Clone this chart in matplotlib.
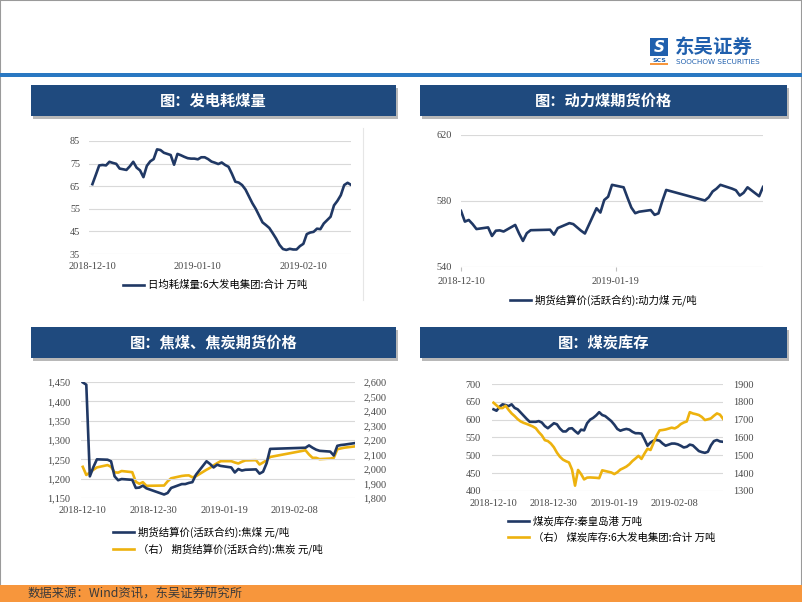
import matplotlib
matplotlib.use('Agg')
import matplotlib.pyplot as plt
from matplotlib.patches import Rectangle
from matplotlib.lines import Line2D
import pandas as pd

plt.rcParams['font.family'] = ['Noto Sans CJK SC', 'DejaVu Sans']

# ---- data ----
# chart 1: daily coal burn of the 6 big power groups, from 2018-12-10
burn_start = '2018-12-10'
burn = [65.9, 70.0, 74.2, 74.4, 74.2, 75.8, 75.3, 74.9, 72.8, 72.5,
        72.2, 73.8, 75.8, 73.2, 72.0, 69.0, 74.0, 76.0, 77.0, 81.3,
        81.0, 79.8, 79.3, 78.8, 74.5, 79.3, 78.7, 78.0, 77.4, 77.2,
        77.2, 76.9, 77.8, 77.8, 77.0, 75.9, 75.4, 74.8, 75.5, 74.4,
        73.6, 70.5, 67.0, 66.6, 65.5, 63.5, 60.5, 57.5, 55.0, 52.0,
        49.0, 47.8, 46.5, 44.2, 41.8, 39.0, 37.2, 36.8, 37.3, 37.0,
        37.0, 38.5, 39.5, 43.8, 44.5, 44.8, 46.2, 46.0, 48.5, 50.0,
        51.5, 56.5, 58.5, 61.0, 65.5, 66.5, 65.6]
burn_yticks = [35, 45, 55, 65, 75, 85]
burn_xticks = ['2018-12-10', '2019-01-10', '2019-02-10']

# futures trading days
trade_dates = ['2018-12-10', '2018-12-11', '2018-12-12', '2018-12-13', '2018-12-14',
               '2018-12-17', '2018-12-18', '2018-12-19', '2018-12-20', '2018-12-21',
               '2018-12-24', '2018-12-25', '2018-12-26', '2018-12-27', '2018-12-28',
               '2019-01-02', '2019-01-03', '2019-01-04',
               '2019-01-07', '2019-01-08', '2019-01-09', '2019-01-10', '2019-01-11',
               '2019-01-14', '2019-01-15', '2019-01-16', '2019-01-17', '2019-01-18',
               '2019-01-21', '2019-01-22', '2019-01-23', '2019-01-24', '2019-01-25',
               '2019-01-28', '2019-01-29', '2019-01-30', '2019-01-31', '2019-02-01',
               '2019-02-11', '2019-02-12', '2019-02-13', '2019-02-14', '2019-02-15',
               '2019-02-18', '2019-02-19', '2019-02-20', '2019-02-21', '2019-02-22',
               '2019-02-25', '2019-02-26']

# chart 2: thermal coal futures
thermal = [574, 567.5, 568.5, 566, 563,
           564, 558.8, 562, 562.2, 561.5,
           565.5, 560.3, 555.8, 560.5, 562.3,
           562.6, 559.6, 563.6,
           566.6, 566, 564, 562, 560.3,
           575.6, 573, 580.6, 582.6, 589.8,
           588.3, 582, 576, 572.6, 573.5,
           574.5, 571.6, 572.5, 580, 586.7,
           580.3, 582.3, 585.8, 587.5, 589.8,
           587.5, 586.5, 583.3, 585, 588.3,
           582.9, 588.5]
thermal_yticks = [540, 580, 620]
thermal_xticks = ['2018-12-10', '2019-01-19']

# chart 3: coking coal (left) and coke (right) futures
coking_coal = [1449, 1443, 1206, 1230, 1250,
               1249, 1245, 1206, 1196, 1199,
               1197, 1176, 1177, 1182, 1175,
               1159, 1163, 1176,
               1186, 1186, 1189, 1191, 1210,
               1245, 1238, 1229, 1236, 1233,
               1229, 1216, 1225, 1221, 1223,
               1224, 1213, 1218, 1240, 1277,
               1280, 1286, 1280, 1275, 1272,
               1270, 1260, 1285, 1287, 1288,
               1292]
coke = [2015, 1959, 1975, 1995, 2011,
        2027, 2015, 1977, 1975, 1986,
        1978, 1912, 1898, 1909, 1884,
        1886, 1915, 1936,
        1952, 1955, 1956, 1943, 1950,
        1995, 2008, 2025, 2040, 2054,
        2054, 2045, 2038, 2050, 2059,
        2061, 2031, 2045, 2060, 2083,
        2129, 2100, 2077, 2077, 2068,
        2072, 2077, 2136, 2142, 2147,
        2156]
coking_yticks = [1150, 1200, 1250, 1300, 1350, 1400, 1450]
coke_yticks = [1800, 1900, 2000, 2100, 2200, 2300, 2400, 2500, 2600]
date_xticks = ['2018-12-10', '2018-12-30', '2019-01-19', '2019-02-08']

# chart 4: daily coal stocks, from 2018-12-10
stock_start = '2018-12-10'
qhd_stock = [629, 625, 636, 643, 641, 638, 643, 633, 629, 620,
             611, 602, 594, 594, 594, 596, 592, 582, 576, 583,
             590, 587, 575, 567, 567, 575, 576, 568, 561, 572,
             570, 590, 600, 605, 612, 621, 613, 610, 603, 596,
             586, 574, 569, 572, 574, 572, 566, 562, 562, 561,
             545, 527, 536, 541, 543, 541, 533, 527, 530, 533,
             533, 531, 527, 522, 524, 530, 528, 520, 512, 509,
             507, 510, 528, 540, 543, 539, 538]
power_stock = [1795, 1780, 1765, 1765, 1778, 1755, 1735, 1720, 1703, 1690,
               1682, 1676, 1669, 1662, 1652, 1630, 1612, 1585, 1580, 1566,
               1545, 1515, 1492, 1476, 1467, 1460, 1420, 1330, 1418, 1395,
               1365, 1375, 1376, 1375, 1374, 1372, 1416, 1412, 1408, 1404,
               1395, 1405, 1420, 1428, 1437, 1450, 1468, 1482, 1497, 1480,
               1510, 1537, 1530, 1570, 1610, 1640, 1642, 1645, 1650, 1655,
               1651, 1660, 1675, 1684, 1690, 1742, 1735, 1731, 1726, 1715,
               1698, 1702, 1707, 1722, 1735, 1728, 1705]
qhd_yticks = [400, 450, 500, 550, 600, 650, 700]
power_yticks = [1300, 1400, 1500, 1600, 1700, 1800, 1900]

# ---- style ----
NAVY = '#203864'
GOLD = '#EDB20E'
BAR = '#1F4A7E'
GRID = '#D9D9D9'
TICK = '#484848'
SERIF = 'Liberation Serif'
FS = 7.4

W, H = 802, 602
fig = plt.figure(figsize=(8.02, 6.02), dpi=100)


def box(x0, y0, x1, y1):
    return [x0 / W, 1 - y1 / H, (x1 - x0) / W, (y1 - y0) / H]


def rect(x0, y0, x1, y1, **kw):
    fig.add_artist(Rectangle((x0 / W, 1 - y1 / H), (x1 - x0) / W, (y1 - y0) / H,
                             transform=fig.transFigure, **kw))


def title_bar(x0, y0, x1, y1, text):
    rect(x0 + 2, y0 + 3, x1 + 2, y1 + 3, color='#B8B8B8', lw=0)
    rect(x0, y0, x1, y1, color=BAR, lw=0)
    fig.text((x0 + x1) / 2 / W, 1 - (y0 + y1) / 2 / H, text, color='white',
             fontsize=11, fontweight='bold', ha='center', va='center')


def style(ax, yticks, ylabels, xticks, xpad=5.5, ypad=6.5):
    for s in ax.spines.values():
        s.set_visible(False)
    ax.grid(axis='y', color=GRID, lw=0.8)
    ax.set_axisbelow(True)
    ax.set_yticks(yticks, ylabels, fontfamily=SERIF, fontsize=FS, color=TICK)
    ax.set_ylim(yticks[0], yticks[-1])
    ax.set_xticks(pd.to_datetime(xticks), xticks, fontfamily=SERIF, fontsize=FS, color=TICK)
    ax.tick_params(axis='y', length=0, pad=ypad)
    ax.tick_params(axis='x', length=0, pad=xpad)


def right_axis(ax, yticks, ylabels, pad=6):
    ax2 = ax.twinx()
    for s in ax2.spines.values():
        s.set_visible(False)
    ax2.set_yticks(yticks, ylabels, fontfamily=SERIF, fontsize=FS, color=TICK)
    ax2.set_ylim(yticks[0], yticks[-1])
    ax2.tick_params(axis='y', length=0, pad=pad)
    return ax2


def legend(ax, handles, labels, x, y):
    ax.legend(handles, labels, loc='upper left', bbox_to_anchor=(x / W, 1 - y / H),
              bbox_transform=fig.transFigure, frameon=False, fontsize=7.5,
              handlelength=2.0, handletextpad=0.4, borderpad=0, borderaxespad=0,
              labelspacing=0.55)


# ---- page frame ----
rect(0, 0, W, H, fill=False, ec='#9A9A9A', lw=1.5)
rect(0, 73, W, 77, color='#2A78C2', lw=0)
rect(0, 585, W, H, color='#F7963C', lw=0)
fig.text(28 / W, 1 - 593.5 / H, '数据来源：Wind资讯，东吴证券研究所', fontsize=8.9,
         color='#3A3A3A', va='center')

# logo
rect(650, 38, 668, 56, color='#1F5FAD', lw=0)
fig.text(659 / W, 1 - 47 / H, 'S', fontsize=11, fontweight='bold', fontstyle='italic',
         color='white', ha='center', va='center', family='DejaVu Sans')
fig.text(659 / W, 1 - 60.5 / H, 'SCS', fontsize=4.5, fontweight='bold', color='#1F5FAD',
         ha='center', va='center', family='DejaVu Sans')
rect(650, 63, 668, 65, color='#F7963C', lw=0)
fig.text(675 / W, 1 - 47 / H, '东吴证券', fontsize=14, fontweight='bold', color='#1F5FAD',
         va='center')
fig.text(676 / W, 1 - 61.5 / H, 'SOOCHOW SECURITIES', fontsize=5.2, color='#1F5FAD',
         va='center', family='DejaVu Sans')

# title bars
title_bar(31, 85, 396, 116, '图：发电耗煤量')
title_bar(420, 85, 787, 116, '图：动力煤期货价格')
title_bar(31, 327, 396, 358, '图：焦煤、焦炭期货价格')
title_bar(420, 327, 787, 358, '图：煤炭库存')
fig.add_artist(Line2D([363 / W, 363 / W], [1 - 128 / H, 1 - 300 / H],
                      transform=fig.transFigure, color='#E6E6E6', lw=0.8))

# ---- chart 1 ----
ax1 = fig.add_axes(box(89, 141, 351, 254))
burn_dates = pd.date_range(burn_start, periods=len(burn))
l1, = ax1.plot(burn_dates, burn, color=NAVY, lw=1.9)
style(ax1, burn_yticks, [str(v) for v in burn_yticks], burn_xticks)
ax1.set_xlim(burn_dates[0] - pd.Timedelta(days=1), burn_dates[-1])
legend(ax1, [l1], ['日均耗煤量:6大发电集团:合计 万吨'], 123, 280)

# ---- chart 2 ----
ax2 = fig.add_axes(box(461, 135, 763, 267))
td = pd.to_datetime(trade_dates)
l2, = ax2.plot(td, thermal, color=NAVY, lw=1.9)
style(ax2, thermal_yticks, [str(v) for v in thermal_yticks], thermal_xticks, xpad=4)
ax2.tick_params(axis='x', length=3, color='#BFBFBF')
ax2.set_xlim(td[0], td[-1])
legend(ax2, [l2], ['期货结算价(活跃合约):动力煤 元/吨'], 510, 294)

# ---- chart 3 ----
ax3 = fig.add_axes(box(81, 382, 355, 498))
n3 = len(coking_coal)
l3, = ax3.plot(td[:n3], coking_coal, color=NAVY, lw=1.9, zorder=3)
style(ax3, coking_yticks, [f'{v:,}' for v in coking_yticks], date_xticks, ypad=7.5)
ax3.set_xlim(td[0] - pd.Timedelta(days=0.5), td[n3 - 1])
ax3r = right_axis(ax3, coke_yticks, [f'{v:,}' for v in coke_yticks], pad=6)
l3b, = ax3r.plot(td[:n3], coke, color=GOLD, lw=1.9)
ax3.set_zorder(ax3r.get_zorder() + 1)
ax3.patch.set_visible(False)
legend(ax3, [l3, l3b], ['期货结算价(活跃合约):焦煤 元/吨',
                        '（右） 期货结算价(活跃合约):焦炭 元/吨'], 113, 526)

# ---- chart 4 ----
ax4 = fig.add_axes(box(492, 384, 723, 491))
stock_dates = pd.date_range(stock_start, periods=len(qhd_stock))
ax4r = right_axis(ax4, power_yticks, [str(v) for v in power_yticks], pad=7)
l4b, = ax4r.plot(stock_dates, power_stock, color=GOLD, lw=1.9)
l4, = ax4.plot(stock_dates, qhd_stock, color=NAVY, lw=1.9)
style(ax4, qhd_yticks, [str(v) for v in qhd_yticks], date_xticks, ypad=8)
ax4.set_xlim(stock_dates[0] - pd.Timedelta(days=0.5), stock_dates[-1])
legend(ax4, [l4, l4b], ['煤炭库存:秦皇岛港 万吨',
                        '（右） 煤炭库存:6大发电集团:合计 万吨'], 508, 516)

fig.savefig('out.png', dpi=100)
